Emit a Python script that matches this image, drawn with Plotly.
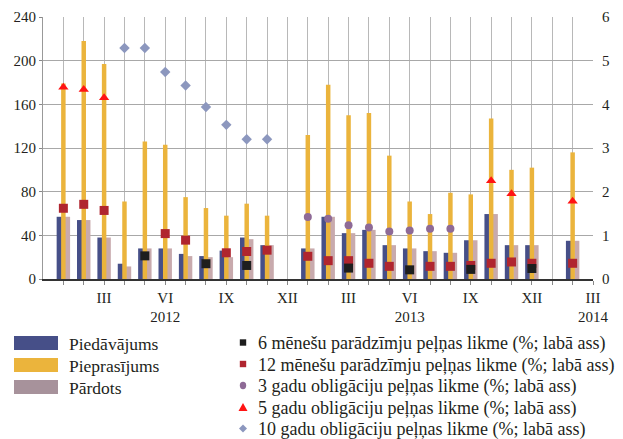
import plotly.graph_objects as go

# months Jan 2012 .. Mar 2014 as index 0..26
MONTHS = list(range(27))
TICK_TEXT = ["", "", "III", "", "", "VI<br>2012", "", "", "IX", "", "", "XII",
             "", "", "III", "", "", "VI<br>2013", "", "", "IX", "", "", "XII",
             "", "", "III<br>2014"]

N = None
# million, left axis
offered = [57, 54, 38, 14, 28, 28, 23, 21, 26, 38, 31, N, 28, 57, 42, 45, 31,
           28, 25.5, 24, 35.5, 59.5, 31, 31, N, 35, N]
demand = [179, 218, 197, 71, 126, 123, 75, 65, 58, 69, 58, N, 132, 178, 150,
          152, 113, 71, 59.5, 79, 77.5, 147, 100, 102, N, 116, N]
sold = [57, 54, 38, 11.5, 28, 28, 21, 20, 20, 36.5, 31, N, 28, 57, 42, 45, 31,
        28, 25.5, 24, 35.5, 59.5, 31, 31, N, 35, N]

# yields, %, right axis
y6m = [N, N, N, N, 0.53, N, N, 0.35, N, 0.31, N, N, N, N, 0.25, N, N, 0.21,
       N, N, 0.22, N, N, 0.24, N, N, N]
y12m = [1.62, 1.71, 1.57, N, N, 1.04, 0.89, N, 0.60, 0.63, 0.66, N, 0.52, 0.42,
        0.42, 0.36, 0.29, N, 0.29, 0.29, 0.31, 0.36, 0.39, 0.36, N, 0.36, N]
y3y = [N] * 12 + [1.42, 1.38, 1.23, 1.18, 1.09, 1.11, 1.15, 1.15] + [N] * 7
y5y = [4.39, 4.34, 4.15] + [N] * 18 + [2.25, 1.95, N, N, 1.78, N]
y10y = [N, N, N, 5.29, 5.29, 4.74, 4.43, 3.94, 3.53, 3.20, 3.20] + [N] * 16

BAR_NAMES = ["Piedāvājums", "Pieprasījums", "Pārdots"]
MARK_NAMES = ["6 mēnešu parādzīmju peļņas likme (%; labā ass)",
              "12 mēnešu parādzīmju peļņas likme (%; labā ass)",
              "3 gadu obligāciju peļņas likme (%; labā ass)",
              "5 gadu obligāciju peļņas likme (%; labā ass)",
              "10 gadu obligāciju peļņas likme (%; labā ass)"]

NAVY, YEL, MAUVE, MAUVE_KEY = "#464F88", "#EBB43C", "#C8AAAD", "#A7929B"
BLACK, DRED, PURP, RED, BLUEG = "#1E1E1E", "#B0252F", "#8E6A96", "#FF1414", "#8C97BE"
FONT = "Liberation Serif"
TXT = "#231F20"
# page body adds 8px, so the figure is 8px smaller than the window
W, H = 615, 431
L, T, PW, PH = 35, 9, 550, 262

fig = go.Figure()
for vals, col, off, wid in [(offered, NAVY, -0.33, 0.26),
                            (sold, MAUVE, 0.08, 0.25),
                            (demand, YEL, -0.11, 0.22)]:
    fig.add_trace(go.Bar(x=MONTHS, y=vals, marker=dict(color=col, line_width=0),
                         offset=off, width=wid, showlegend=False))

for vals, sym, col, size in [(y12m, "square", DRED, 9), (y6m, "square", BLACK, 9),
                             (y3y, "circle", PURP, 8), (y5y, "triangle-up", RED, 9),
                             (y10y, "diamond", BLUEG, 8)]:
    fig.add_trace(go.Scatter(x=MONTHS, y=vals, yaxis="y2", mode="markers",
                             showlegend=False,
                             marker=dict(symbol=sym, color=col, size=size)))


def px(x):
    return (x - L) / PW


def py(y):
    return (T + PH - y) / PH


# legend keys drawn on the paper (figure pixel coords converted)
shapes, annots = [], []
for i, (lab, col) in enumerate(zip(BAR_NAMES, [NAVY, YEL, MAUVE_KEY])):
    yc = 335 + 22 * i
    shapes.append(dict(type="rect", xref="paper", yref="paper",
                       x0=px(6), x1=px(50), y0=py(yc + 7), y1=py(yc - 7),
                       fillcolor=col, line_width=0))
    annots.append(dict(text=lab, xref="paper", yref="paper", x=px(59),
                       y=py(yc + 1), xanchor="left", yanchor="middle",
                       showarrow=False, font=dict(size=17.5, family=FONT, color=TXT)))

mx = 235
for i, (lab, col) in enumerate(zip(MARK_NAMES, [BLACK, DRED, PURP, RED, BLUEG])):
    yc = 334.5 + 21.5 * i
    r = 3.2
    if i < 2:
        shapes.append(dict(type="rect", xref="paper", yref="paper",
                           x0=px(mx - r), x1=px(mx + r), y0=py(yc + r), y1=py(yc - r),
                           fillcolor=col, line_width=0))
    elif i == 2:
        shapes.append(dict(type="circle", xref="paper", yref="paper",
                           x0=px(mx - r), x1=px(mx + r), y0=py(yc + r + 0.5),
                           y1=py(yc - r - 0.5), fillcolor=col, line_width=0))
    elif i == 3:
        path = "M%f,%f L%f,%f L%f,%f Z" % (px(mx - 4.5), py(yc + 4), px(mx + 4.5),
                                           py(yc + 4), px(mx), py(yc - 4))
        shapes.append(dict(type="path", xref="paper", yref="paper", path=path,
                           fillcolor=col, line_width=0))
    else:
        path = "M%f,%f L%f,%f L%f,%f L%f,%f Z" % (px(mx - 4), py(yc), px(mx), py(yc - 4),
                                                  px(mx + 4), py(yc), px(mx), py(yc + 4))
        shapes.append(dict(type="path", xref="paper", yref="paper", path=path,
                           fillcolor=col, line_width=0))
    annots.append(dict(text=lab, xref="paper", yref="paper", x=px(248),
                       y=py(yc + 1), xanchor="left", yanchor="middle",
                       showarrow=False, font=dict(size=18, family=FONT, color=TXT)))

fig.update_layout(
    width=W, height=H, barmode="overlay", plot_bgcolor="white",
    paper_bgcolor="white", showlegend=False,
    margin=dict(l=L, r=W - L - PW, t=T, b=H - T - PH, autoexpand=False),
    font=dict(family=FONT, size=14, color=TXT),
    xaxis=dict(range=[-1, 26], tickvals=MONTHS, ticktext=TICK_TEXT,
               showgrid=True, gridcolor="#B8B8B8", gridwidth=1.3,
               ticks="outside", ticklen=4, tickcolor="#888",
               showline=True, linecolor="#333", linewidth=1.5,
               tickfont=dict(size=15), zeroline=False),
    yaxis=dict(range=[0, 240], dtick=40, showgrid=True, gridcolor="#A8A8A8",
               gridwidth=1.3, ticks="outside", ticklen=3, tickcolor="#888",
               showline=True, linecolor="#999", zeroline=False,
               tickfont=dict(size=15)),
    yaxis2=dict(range=[0, 6], dtick=1, overlaying="y", side="right",
                showgrid=False, zeroline=False, ticks="", showline=False,
                tickfont=dict(size=15), ticklabelstandoff=8),
    shapes=shapes, annotations=annots,
)

fig.write_html("out.html")
